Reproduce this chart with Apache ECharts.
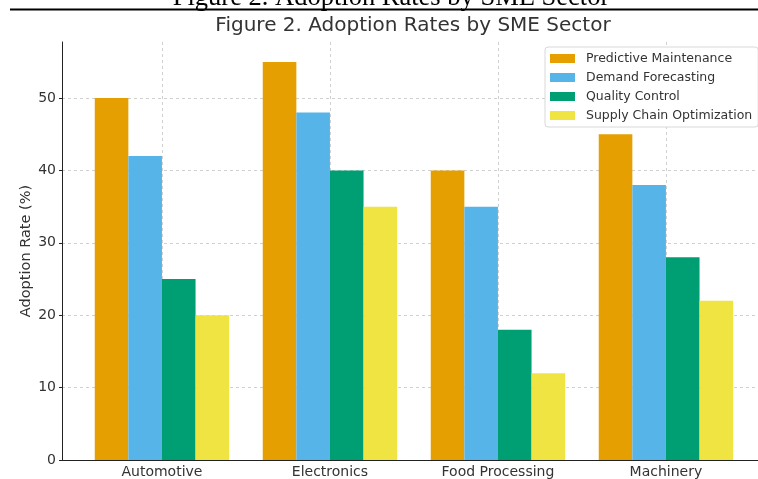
<!DOCTYPE html>
<html>
<head>
<meta charset="utf-8">
<script src="https://cdn.jsdelivr.net/npm/echarts@6/dist/echarts.min.js"></script>
<style>
html,body{margin:0;padding:0;background:#fff;}
#chart{width:758px;height:479px;}
</style>
</head>
<body>
<div id="chart"></div>
<script>
const categories = ['Automotive', 'Electronics', 'Food Processing', 'Machinery'];
const seriesNames = ['Predictive Maintenance', 'Demand Forecasting', 'Quality Control', 'Supply Chain Optimization'];
const predictiveMaintenance = [50, 55, 40, 45];
const demandForecasting = [42, 48, 35, 38];
const qualityControl = [25, 40, 18, 28];
const supplyChainOptimization = [20, 35, 12, 22];
const yTicks = [0, 10, 20, 30, 40, 50];
const colors = ['#E69F00', '#56B4E9', '#009E73', '#F0E442'];
const values = [predictiveMaintenance, demandForecasting, qualityControl, supplyChainOptimization];

const chart = echarts.init(document.getElementById('chart'), null, {renderer: 'canvas'});
const catIdx = categories.map((c, i) => i);

chart.setOption({
  animation: false,
  backgroundColor: '#fff',
  title: [
    {
      text: 'Figure 2. Adoption Rates by SME Sector',
      left: 391, top: -15, textAlign: 'center', padding: 0,
      textStyle: {fontFamily: 'Liberation Serif', fontSize: 26.5, fontWeight: 'normal', color: '#000'}
    },
    {
      text: 'Figure 2. Adoption Rates by SME Sector',
      left: 413, top: 16, textAlign: 'center', padding: 0,
      textStyle: {fontFamily: 'DejaVu Sans', fontSize: 20, fontWeight: 'normal', color: '#333'}
    }
  ],
  graphic: [{
    type: 'line', shape: {x1: 10, y1: 9.5, x2: 758, y2: 9.5},
    style: {stroke: '#000', lineWidth: 2}, silent: true, z: 10
  }],
  legend: {
    orient: 'vertical', left: 545, top: 47,
    padding: [5, 6, 5, 5], itemGap: 6, itemWidth: 25, itemHeight: 9,
    borderColor: '#d8d8d8', borderWidth: 1, borderRadius: 3, backgroundColor: '#fff',
    icon: 'rect',
    textStyle: {fontFamily: 'DejaVu Sans', fontSize: 12.5, color: '#333', padding: [0, 0, 0, 6], lineHeight: 12},
    data: seriesNames
  },
  grid: {left: 62, top: 42, right: 0, bottom: 18, containLabel: false},
  xAxis: {
    type: 'value', min: -0.595, max: 3.548,
    axisLine: {show: true, onZero: false, lineStyle: {color: '#222', width: 1}},
    axisTick: {show: false, customValues: catIdx},
    axisLabel: {
      customValues: catIdx, margin: 5,
      fontFamily: 'DejaVu Sans', fontSize: 14, color: '#333',
      formatter: v => categories[Math.round(v)]
    },
    splitLine: {show: true, lineStyle: {color: '#d0d0d0', type: [3, 3], width: 1}}
  },
  yAxis: {
    type: 'value', min: 0, max: 57.75,
    name: 'Adoption Rate (%)', nameLocation: 'middle', nameGap: 28, nameRotate: 90,
    nameMoveOverlap: false,
    nameTextStyle: {fontFamily: 'DejaVu Sans', fontSize: 14.5, color: '#333'},
    axisLine: {show: true, onZero: false, lineStyle: {color: '#222', width: 1}},
    axisTick: {show: true, length: 3, customValues: yTicks, lineStyle: {color: '#222'}},
    axisLabel: {
      customValues: yTicks, margin: 6, fontFamily: 'DejaVu Sans', fontSize: 14, color: '#333'
    },
    splitLine: {show: true, lineStyle: {color: '#d0d0d0', type: [3, 3], width: 1}}
  },
  series: seriesNames.map((name, s) => ({
    name: name, type: 'bar',
    barGap: '0%', barCategoryGap: '20%',
    itemStyle: {color: colors[s]},
    data: values[s].map((v, i) => [catIdx[i], v])
  }))
});
</script>
</body>
</html>
